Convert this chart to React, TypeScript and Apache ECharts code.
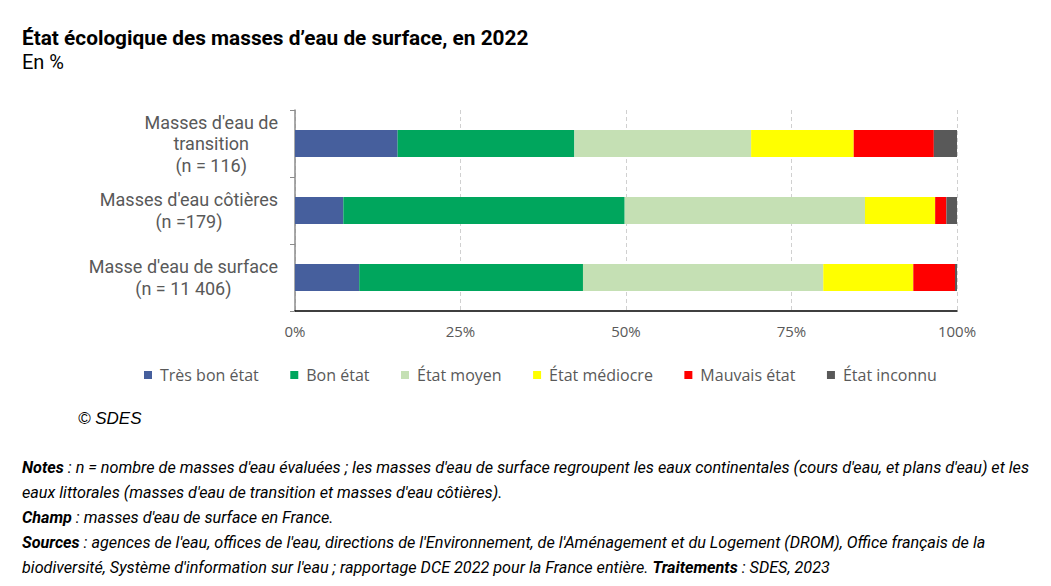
import React, { useEffect, useRef } from "react";
import * as echarts from "echarts";

const categories = [
  "Masses d'eau de\ntransition\n(n = 116)",
  "Masses d'eau côtières\n(n =179)",
  "Masse d'eau de surface\n(n = 11 406)",
];
const seriesNames = [
  "Très bon état",
  "Bon état",
  "État moyen",
  "État médiocre",
  "Mauvais état",
  "État inconnu",
];
const seriesColors = ["#465F9D", "#00A65D", "#C5E0B4", "#FFFF00", "#FF0000", "#595959"];
// values per series, in category order [transition, côtières, surface]
const tresBon = [15.5, 7.3, 9.7];
const bon = [26.7, 42.5, 33.8];
const moyen = [26.7, 36.3, 36.3];
const mediocre = [15.5, 10.6, 13.6];
const mauvais = [12.1, 1.7, 6.3];
const inconnu = [3.5, 1.6, 0.3];
const seriesValues = [tresBon, bon, moyen, mediocre, mauvais, inconnu];
const xTicks = [0, 25, 50, 75, 100];

const titleText = "État écologique des masses d’eau de surface, en 2022";
const subtitleText = "En %";
const creditText = "© SDES";
const notesLines = [
  "{b|Notes} : n = nombre de masses d'eau évaluées ; les masses d'eau de surface regroupent les eaux continentales (cours d'eau, et plans d'eau) et les",
  "eaux littorales (masses d'eau de transition et masses d'eau côtières).",
  "{b|Champ} : masses d'eau de surface en France.",
  "{b|Sources} : agences de l'eau, offices de l'eau, directions de l'Environnement, de l'Aménagement et du Logement (DROM), Office français de la",
  "biodiversité, Système d'information sur l'eau ; rapportage DCE 2022 pour la France entière. {b|Traitements} : SDES, 2023",
];

const FONT = "Roboto";
const CHART_FONT = "Open Sans";

export default function App() {
  const ref = useRef<HTMLDivElement>(null);
  useEffect(() => {
    if (!ref.current) return;
    const chart = echarts.init(ref.current, null, { renderer: "svg" });
    const notesGraphics = notesLines.map((line, i) => ({
      type: "text",
      x: 22,
      y: 467 + i * 25,
      style: {
        text: line,
        fontFamily: FONT,
        fontSize: 16.2,
        fontStyle: "italic",
        fill: "#000",
        verticalAlign: "middle",
        rich: {
          b: { fontFamily: FONT, fontSize: 16.2, fontStyle: "italic", fontWeight: "bold", fill: "#000" },
        },
      },
    }));
    chart.setOption({
      animation: false,
      grid: { left: 295, right: 94, top: 110, bottom: 275, containLabel: false },
      legend: {
        data: seriesNames,
        left: 144,
        top: 367,
        padding: 0,
        itemWidth: 8,
        itemHeight: 8,
        itemGap: 31.5,
        icon: "rect",
        textStyle: { fontFamily: CHART_FONT, fontSize: 16, color: "#595959", padding: [0, 0, 0, 3] },
      },
      xAxis: {
        type: "value",
        min: 0,
        max: 100,
        interval: 25,
        axisLine: { show: true, lineStyle: { color: "#000", width: 1.5 } },
        axisTick: { show: false },
        splitLine: { show: true, lineStyle: { color: "#d0d0d0", type: [4, 3] } },
        axisLabel: {
          formatter: (v: number) => (xTicks.includes(v) ? `${v}%` : ""),
          fontFamily: CHART_FONT,
          fontSize: 15,
          color: "#595959",
          margin: 12,
        },
      },
      yAxis: {
        type: "category",
        data: categories,
        inverse: true,
        axisLine: { show: true, lineStyle: { color: "#8c8c8c", width: 1.5 } },
        axisTick: { show: true, length: 5, lineStyle: { color: "#8c8c8c" } },
        axisLabel: {
          margin: 17,
          formatter: (v: string) =>
            v
              .split("\n")
              .map((l) => `{c|${l}}`)
              .join("\n"),
          rich: {
            c: { align: "center", fontFamily: FONT, fontSize: 18, color: "#595959", lineHeight: 21.5 },
          },
        },
      },
      series: seriesNames.map((name, i) => ({
        name,
        type: "bar",
        stack: "total",
        barWidth: 27,
        data: seriesValues[i],
        itemStyle: { color: seriesColors[i] },
        emphasis: { disabled: true },
      })),
      graphic: [
        {
          type: "text",
          x: 22,
          y: 38,
          style: {
            text: titleText,
            fontFamily: FONT,
            fontSize: 20.8,
            fontWeight: "bold",
            fill: "#000",
            verticalAlign: "middle",
          },
        },
        {
          type: "text",
          x: 22,
          y: 62,
          style: {
            text: subtitleText,
            fontFamily: FONT,
            fontSize: 20,
            fill: "#000",
            verticalAlign: "middle",
          },
        },
        {
          type: "text",
          x: 78,
          y: 418,
          style: {
            text: creditText,
            fontFamily: "Liberation Sans",
            fontSize: 17,
            fontStyle: "italic",
            fill: "#000",
            verticalAlign: "middle",
          },
        },
        ...notesGraphics,
      ],
    });
    return () => chart.dispose();
  }, []);
  return (
    <div
      ref={ref}
      style={{ position: "absolute", left: 0, top: 0, width: 1051, height: 586, background: "#fff" }}
    />
  );
}
